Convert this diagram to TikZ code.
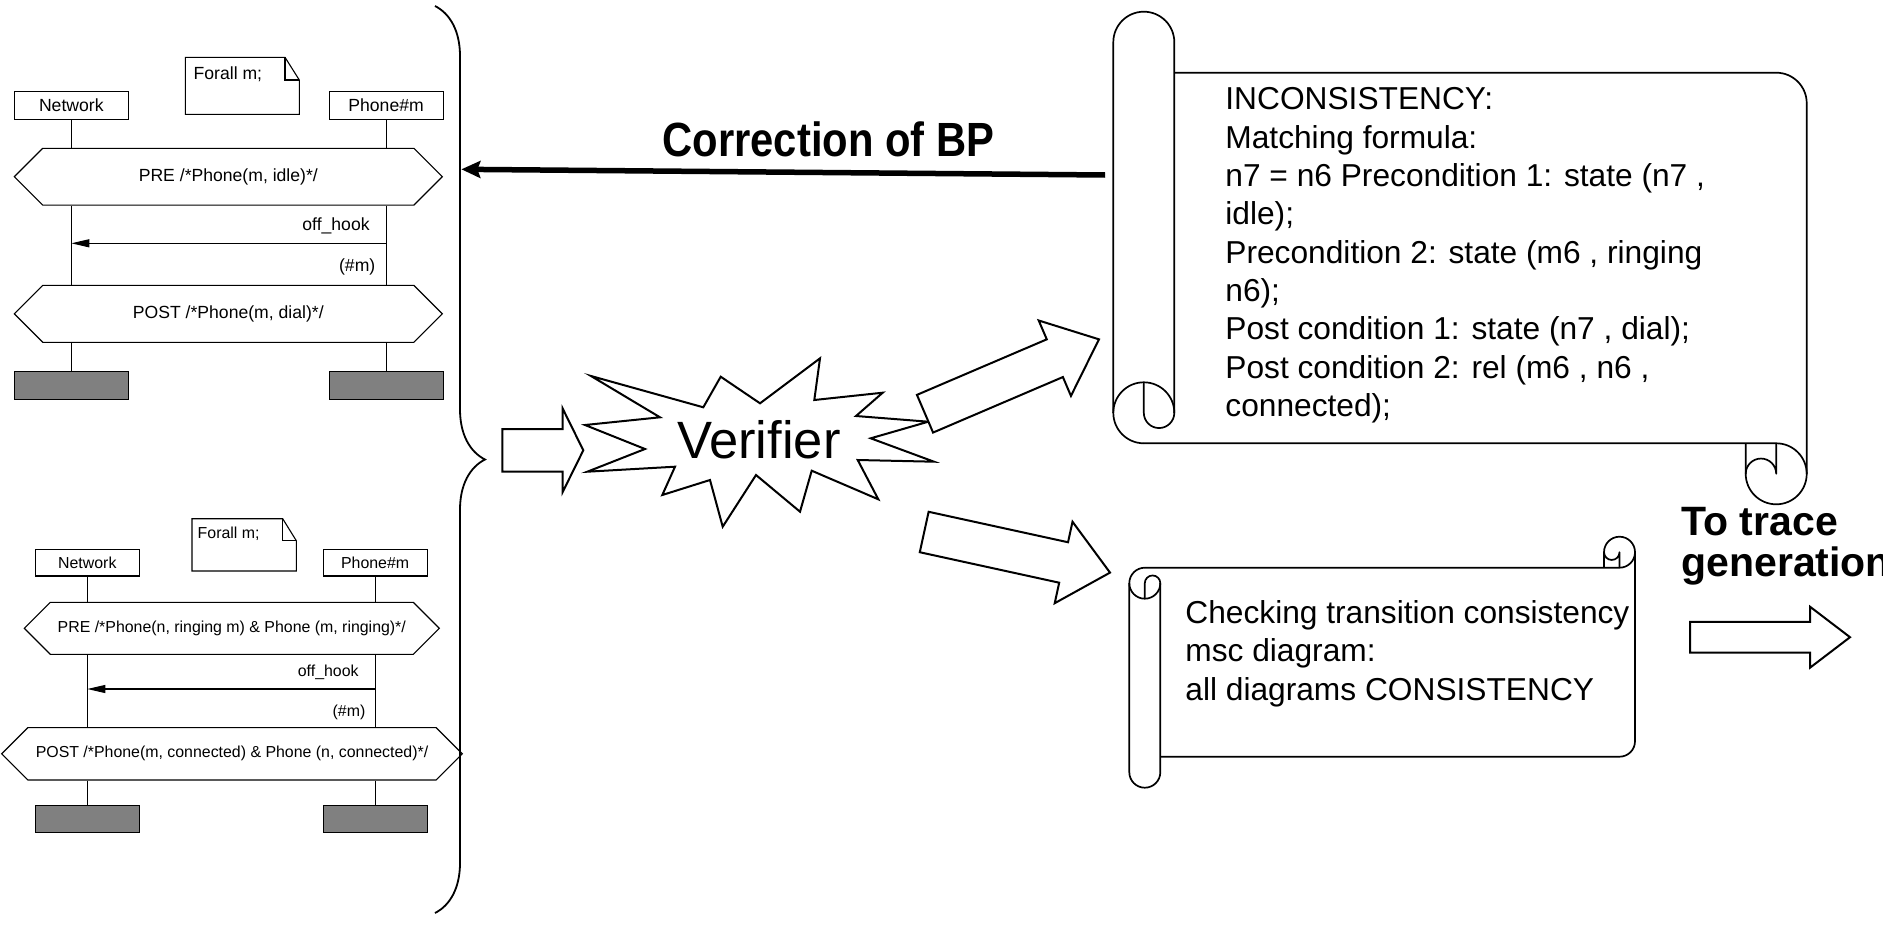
\documentclass[tikz,border=0pt]{standalone}
\usepackage{fontspec}
\setmainfont{Liberation Sans}
\usepackage{graphicx}
\usetikzlibrary{
  positioning,
  arrows.meta,
  decorations.pathreplacing,
  shapes.symbols
}

\newcommand\mscfont{\fontsize{8.8}{10.5}\selectfont}
\newcommand\mscsmallfont{\fontsize{7.95}{9.5}\selectfont}
\newcommand\scrollfont{\fontsize{15.85}{19.15}\selectfont}
\newcommand\corrfont{\bfseries\fontsize{24}{28}\selectfont}
\newcommand\tracefont{\bfseries\fontsize{20.5}{20.5}\selectfont}

\tikzset{
  % rolled paper banner: body width, body height, roll radius
  pics/scroll/.style n args={3}{code={
    \draw[scrollline] (0,#2-#3) -- (0,-#3) arc[start angle=180, end angle=360, radius=#3] -- (2*#3,#2-#3);
    \draw[scrollline] (2*#3,0) -- (#1-#3,0) arc[start angle=270, end angle=360, radius=#3]
      -- (#1,#2+#3) arc[start angle=0, end angle=180, radius=#3] -- (#1-2*#3,#2);
    \draw[scrollline] (#3,#2) -- (#1-#3,#2) arc[start angle=270, end angle=360, radius=#3];
    \draw[scrollline] (0,#2-#3) arc[start angle=180, end angle=90, radius=#3];
    \draw[scrollline] (0,#2-#3) arc[start angle=180, end angle=360, radius=#3];
    \draw[scrollline] (#3,#2-2*#3) -- (#3,#2-#3) arc[start angle=180, end angle=0, radius=#3/2];
    \draw[scrollline] (#1-2*#3,#2+#3) arc[start angle=180, end angle=360, radius=#3/2] -- (#1-#3,#2);
  }},
  % hollow block arrow: length, head length, shaft half width, head half width
  pics/fatarrow/.style n args={4}{code={
    \draw[fatline] (0,-#3) -- (#1-#2,-#3) -- (#1-#2,-#4) -- (#1,0)
      -- (#1-#2,#4) -- (#1-#2,#3) -- (0,#3) -- cycle;
  }},
}

\begin{document}
\begin{tikzpicture}[
  x=0.5pt, y=0.5pt, yscale=-1,
  font=\mscfont,
  >=Stealth,
  lifebox/.style={draw, line width=0.55pt, inner sep=0pt,
    minimum width=57pt, minimum height=14.15pt},
  lifebox2/.style={lifebox, minimum width=52pt, minimum height=13.15pt},
  stopbox/.style={lifebox, fill=black!50},
  stopbox2/.style={lifebox2, fill=black!50},
  cond/.style={draw, line width=0.55pt, shape=signal,
    signal to=west and east, inner sep=0pt},
  lifeline/.style={line width=0.55pt},
  msg/.style={line width=0.55pt, -{Triangle[length=9pt, width=4pt]}},
  msclab/.style={inner sep=0pt},
  note/.style={line width=0.55pt, line join=miter},
  scrollline/.style={line width=0.85pt, line join=round},
  scrolltxt/.style={font=\scrollfont, align=left, anchor=north west, inner sep=0pt},
  fatline/.style={line width=1pt, fill=white},
  brace/.style={decorate, decoration={brace, amplitude=25pt}, line width=0.9pt},
  corr/.style={line width=2.75pt, -{Stealth[length=9.5pt, width=8.5pt, inset=1.5pt]}},
]
  \useasboundingbox (0,0) rectangle (1883,926);
  \clip (0,0) rectangle (1883,926);

  % ---- first chart: Phone(m) goes off hook
  \node[lifebox] (net1) at (71.3,105.2) {Network};
  \node[lifebox, right=99.85pt of net1] (ph1) {Phone\#m};
  \draw[note] (185.3,114.3) -- (185.3,57.3) -- (285,57.3) -- (299.3,80) -- (299.3,114.3) -- cycle;
  \draw[note] (285,57.3) -- (285,80) -- (299.3,80);
  \node[msclab, anchor=base west] (forall1) at (193.3,79) {Forall m;};

  \node[cond, minimum width=214pt, minimum height=28.35pt] (pre1) at (228.3,176.7)
    {PRE /*Phone(m, idle)*/};
  \node[cond, minimum width=214pt, minimum height=28.5pt] (post1) at (228.3,313.8)
    {POST /*Phone(m, dial)*/};
  \node[stopbox] (net1-end) at (71.3,385.2) {};
  \node[stopbox] (ph1-end) at (ph1 |- net1-end) {};

  \draw[lifeline] (net1.south) -- (net1.south |- pre1.north);
  \draw[lifeline] (net1.south |- pre1.south) -- (net1.south |- post1.north);
  \draw[lifeline] (net1.south |- post1.south) -- (net1-end.north);
  \draw[lifeline] (ph1.south) -- (ph1.south |- pre1.north);
  \draw[lifeline] (ph1.south |- pre1.south) -- (ph1.south |- post1.north);
  \draw[lifeline] (ph1.south |- post1.south) -- (ph1-end.north);

  \coordinate (hook1) at (0,243.3);
  \draw[msg] (ph1 |- hook1) -- (net1 |- hook1);
  \node[msclab, anchor=base east] (hook1lab) at (370,230) {off\_hook};
  \node[msclab, anchor=base east] (m1lab) at (375.7,271.5) {(\#m)};

  % ---- second chart: answering a ringing phone
  \begin{scope}[font=\mscsmallfont]
    \node[lifebox2] (net2) at (87.3,562.8) {Network};
    \node[lifebox2, right=91.35pt of net2] (ph2) {Phone\#m};
    \draw[note] (192,571) -- (192,518.7) -- (282.7,518.7) -- (296.3,540.7) -- (296.3,571) -- cycle;
    \draw[note] (282.7,518.7) -- (282.7,540.7) -- (296.3,540.7);
    \node[msclab, anchor=base west] (forall2) at (197.3,538.7) {Forall m;};

    \node[cond, minimum width=207.5pt, minimum height=26pt] (pre2) at (231.8,628.3)
      {PRE /*Phone(n, ringing m) \& Phone (m, ringing)*/};
    \node[cond, minimum width=230.3pt, minimum height=26.15pt] (post2) at (232,753.8)
      {POST /*Phone(m, connected) \& Phone (n, connected)*/};
    \node[stopbox2] (net2-end) at (87.3,819) {};
    \node[stopbox2] (ph2-end) at (ph2 |- net2-end) {};

    \draw[lifeline] (net2.south) -- (net2.south |- pre2.north);
    \draw[lifeline] (net2.south |- pre2.south) -- (net2.south |- post2.north);
    \draw[lifeline] (net2.south |- post2.south) -- (net2-end.north);
    \draw[lifeline] (ph2.south) -- (ph2.south |- pre2.north);
    \draw[lifeline] (ph2.south |- pre2.south) -- (ph2.south |- post2.north);
    \draw[lifeline] (ph2.south |- post2.south) -- (ph2-end.north);

    \coordinate (hook2) at (0,689);
    \draw[msg] (ph2 |- hook2) -- (net2 |- hook2);
    \node[msclab, anchor=base east] (hook2lab) at (359,676.7) {off\_hook};
    \node[msclab, anchor=base east] (m2lab) at (365.7,716) {(\#m)};
  \end{scope}

  % brace grouping both charts
  \draw[brace] (435,6) -- (435,913);
  \coordinate (braceIn) at (461.4,169.3);

  % verifier
  \draw[line width=1pt, line join=miter]
    (591,376) -- (703.3,407.3) -- (720.7,376.7) -- (760,403.3) -- (820,358.3)
    -- (814.3,400) -- (882.7,392.7) -- (856,416) -- (928.3,421.7) -- (870.7,438.3)
    -- (934,461.7) -- (857.7,460) -- (878.3,499.3) -- (811.7,470.7) -- (800,511.7)
    -- (756,475) -- (722.7,526.7) -- (710,480) -- (662.3,495) -- (675,466.7)
    -- (587.3,471.7) -- (645,449) -- (585,425) -- (660,417.3) -- cycle;
  \node[font=\fontsize{26.25}{30}\selectfont, anchor=base, inner sep=0pt] (verifier)
    at (758.8,458.3) {Verifier};

  \coordinate (verIn) at (502.3,450.3);
  \coordinate (toIncons) at (925,413.7);
  \coordinate (toCheck) at (924.2,532);
  \coordinate (toTrace) at (1690,637.2);
  \pic[transform shape] at (verIn) {fatarrow={81}{20.6}{21.3}{41.7}};
  \pic[transform shape, rotate=-23.15] at (toIncons) {fatarrow={189.2}{48}{20.5}{41}};
  \pic[transform shape, rotate=12.33] at (toCheck) {fatarrow={190.2}{47.5}{20.7}{41.7}};
  \pic[transform shape] at (toTrace) {fatarrow={160}{40}{15.4}{30.5}};

  % results
  \pic[transform shape] at (1113.3,72.7) {scroll={693.4}{370.6}{30.5}};
  \node[scrolltxt] (incons) at (1225,87.4) {INCONSISTENCY:\\
    Matching formula:\\
    n7 = n6 Precondition 1: state (n7 ,\\
    idle);\\
    Precondition 2: state (m6 , ringing\\
    n6);\\
    Post condition 1: state (n7 , dial);\\
    Post condition 2: rel (m6 , n6 ,\\
    connected);};

  \pic[transform shape, yscale=-1] at (1129.3,756.7) {scroll={505.7}{189}{15.5}};
  \node[scrolltxt] (check) at (1185,600.3) {Checking transition consistency\\
    msc diagram:\\
    all diagrams CONSISTENCY};

  % feedback
  \coordinate (corrStart) at (1105.2,175);
  \draw[corr] (corrStart) -- (braceIn);
  \node[font=\corrfont, anchor=base, inner sep=0pt] (corrlab) at (828.5,156)
    {\scalebox{0.87}[1]{Correction of BP}};
  \node[font=\tracefont, align=left, anchor=north west, inner sep=0pt] (tracelab)
    at (1681,506.5) {To trace\\ generation};
\end{tikzpicture}
\end{document}
